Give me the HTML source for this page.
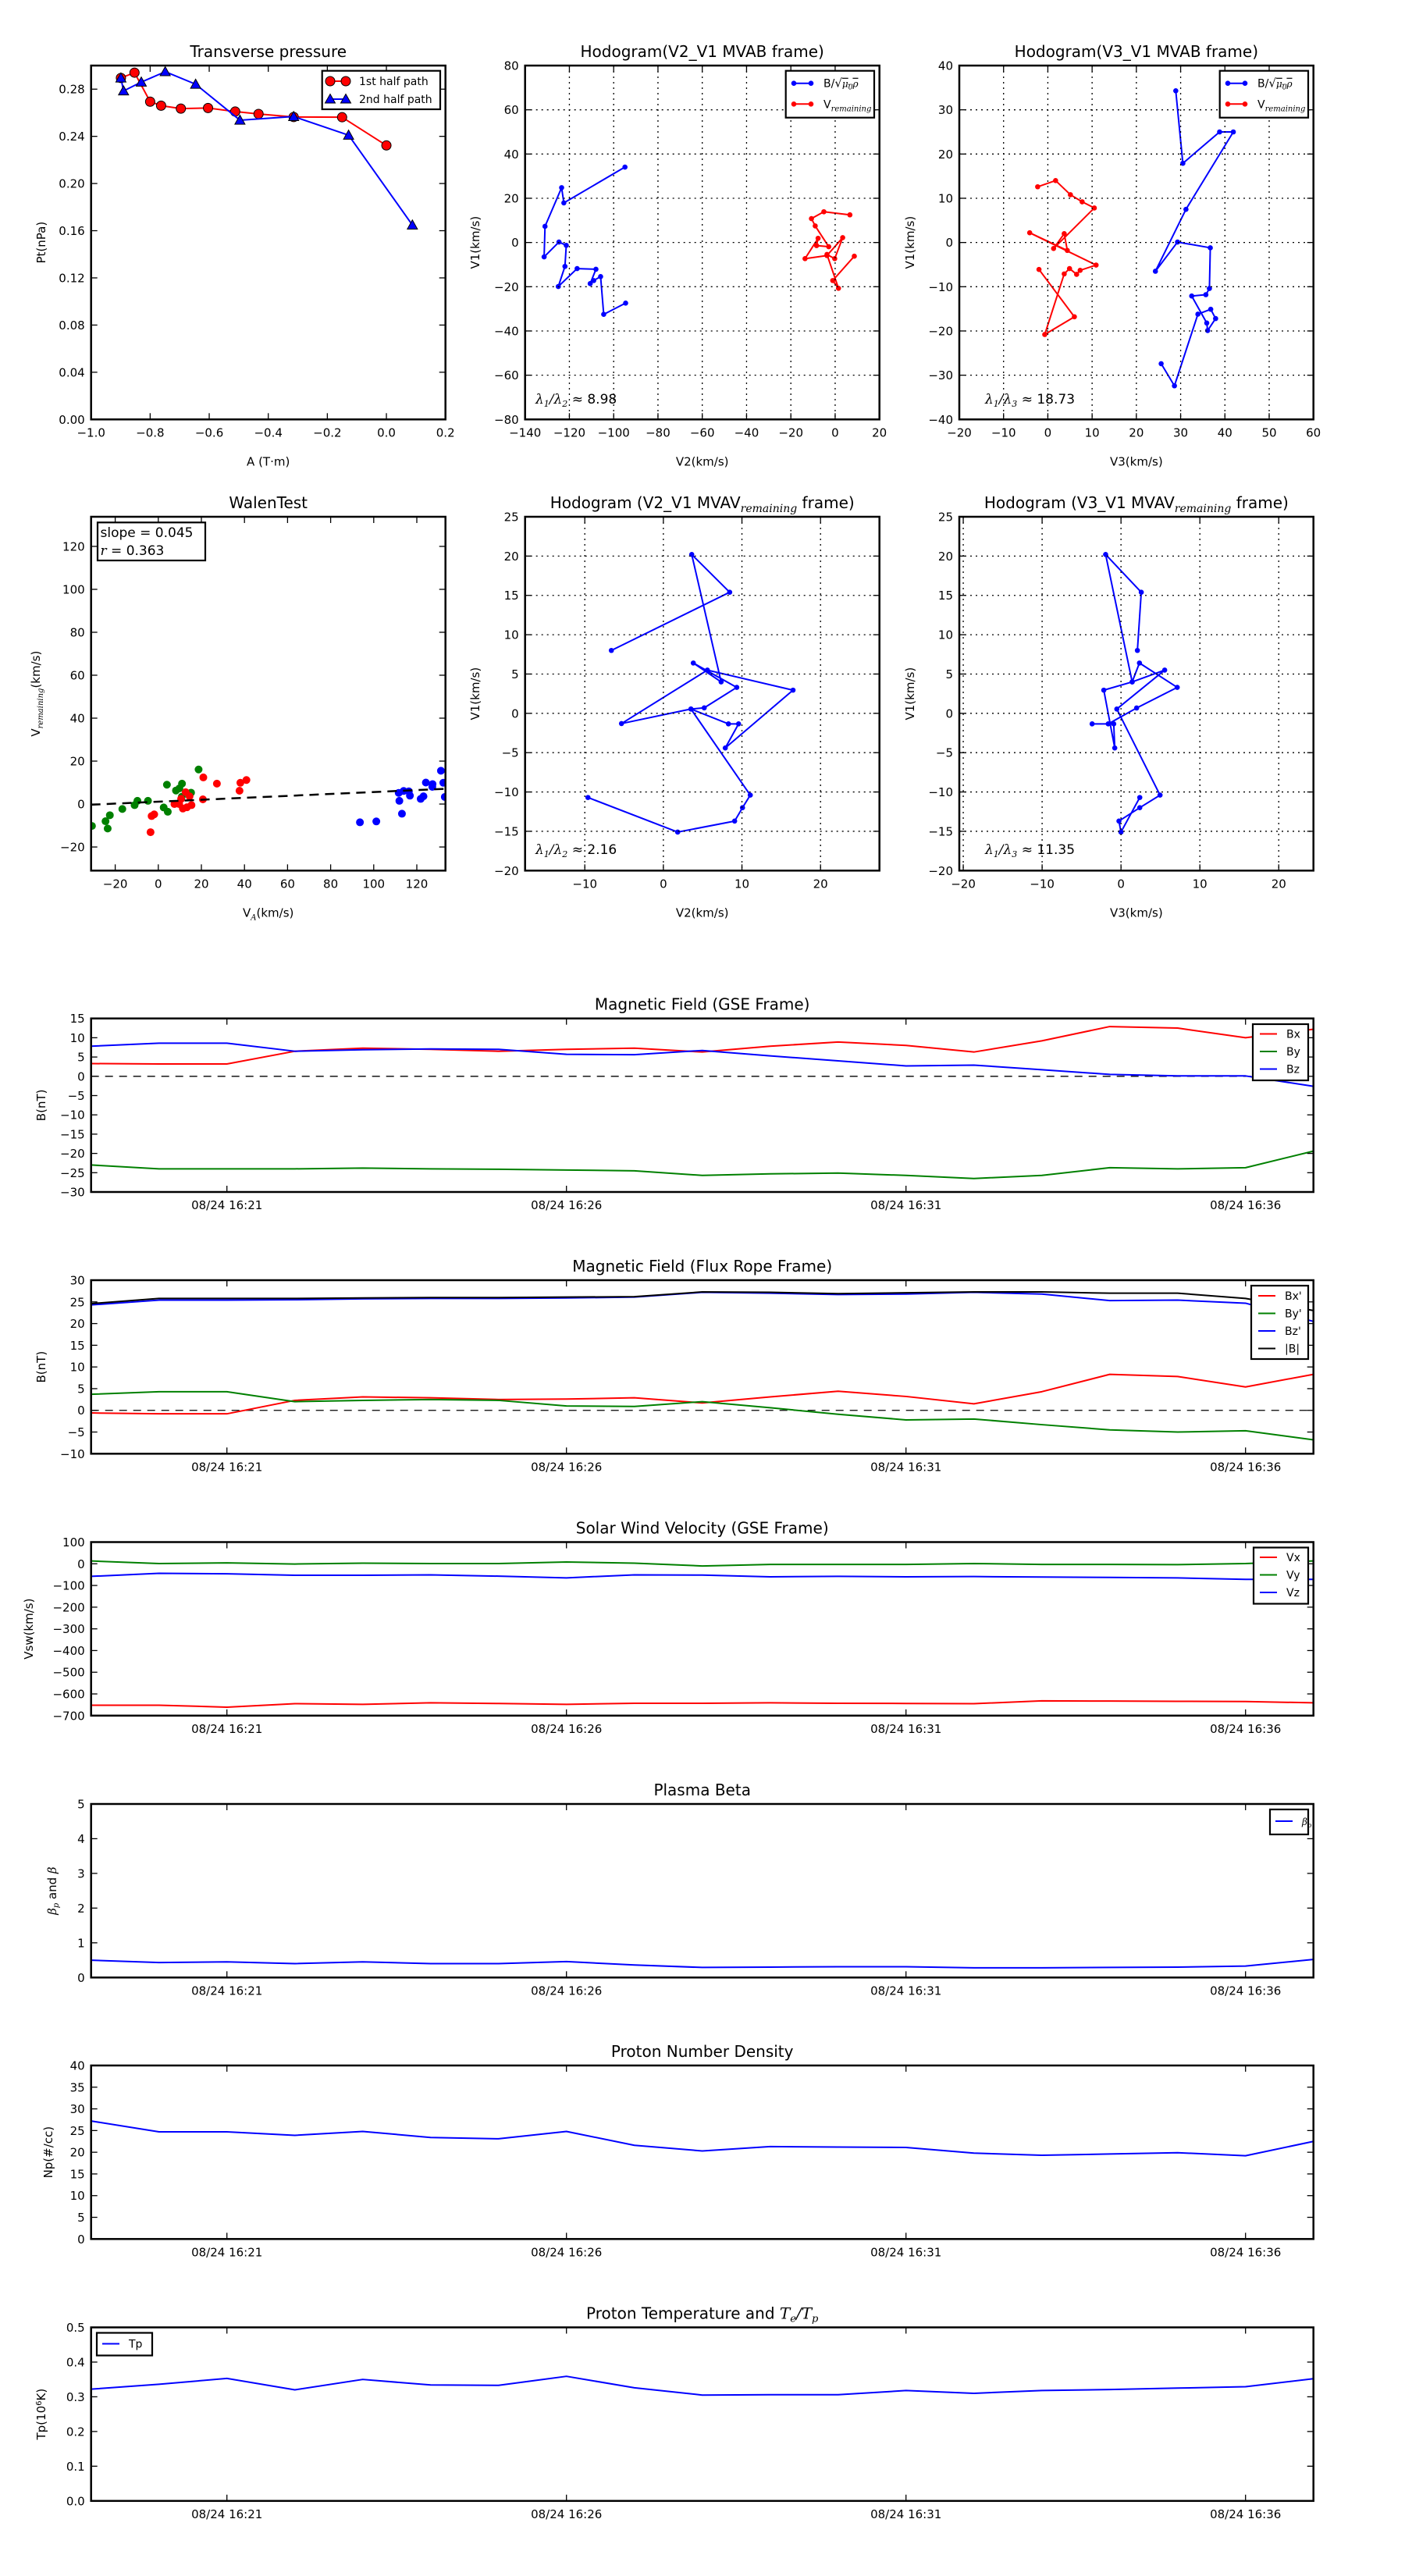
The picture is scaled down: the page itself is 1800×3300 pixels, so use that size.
<!DOCTYPE html>
<html><head><meta charset="utf-8"><title>Flux rope analysis</title>
<style>
html,body{margin:0;padding:0;background:#fff;}
svg{display:block;font-family:"DejaVu Sans","Liberation Sans",sans-serif;}
</style></head>
<body>
<svg id="fig" xmlns="http://www.w3.org/2000/svg" width="1800" height="3300" viewBox="0 0 1800 3300">
<rect x="0" y="0" width="1800" height="3300" fill="#fff"/>
<defs id="defs"></defs>
</svg>
<script>
// ---------- data: transverse pressure ----------
const pt1A = [-0.899,-0.853,-0.8,-0.763,-0.696,-0.604,-0.512,-0.433,-0.314,-0.150,0.0];
const pt1P = [0.2895,0.294,0.2694,0.266,0.2635,0.264,0.261,0.259,0.2564,0.2562,0.2323];
const pt2A = [-0.899,-0.890,-0.830,-0.749,-0.646,-0.496,-0.314,-0.128,0.088];
const pt2P = [0.2895,0.2785,0.286,0.2948,0.2842,0.2537,0.2568,0.241,0.1648];
const ptXTicks = [-1.0,-0.8,-0.6,-0.4,-0.2,0.0,0.2];
const ptYTicks = [0,0.04,0.08,0.12,0.16,0.20,0.24,0.28];
// ---------- hodogram V2_V1 MVAB ----------
const h1BV2 = [-94.9,-122.5,-123.5,-131,-131.4,-124.7,-121.4,-122,-125,-116.5,-108,-110.6,-109,-105.9,-104.5,-94.6];
const h1BV1 = [34.1,17.9,24.8,7.3,-6.5,0.2,-1.3,-10.8,-19.9,-11.8,-12.1,-18.6,-17.2,-15.4,-32.5,-27.4];
const h1VV2 = [6.65,-5.1,-10.7,-9.0,-2.9,-8.4,-7.7,-13.6,-3.7,3.4,-0.2,-3.7,1.5,-1.1,8.65];
const h1VV1 = [12.5,13.9,10.8,7.5,-1.9,-1.4,1.9,-7.3,-5.9,2.2,-7.3,-5.4,-20.7,-17.2,-6.2];
const h1XTicks = [-140,-120,-100,-80,-60,-40,-20,0,20];
const h1YTicks = [-80,-60,-40,-20,0,20,40,60,80];
// ---------- hodogram V3_V1 MVAB ----------
const h2BV3 = [28.9,30.5,38.8,41.9,31.2,24.3,29.3,36.7,36.5,35.7,32.5,35.9,36.1,37.9,36.8,33.9,28.6,25.6];
const h2BV1 = [34.3,17.9,25.0,25.0,7.5,-6.5,0.1,-1.2,-10.4,-11.8,-12.1,-18.2,-19.9,-17.2,-15.1,-16.2,-32.4,-27.4];
const h2VV3 = [-2.3,1.75,5.1,7.75,10.5,1.3,3.7,4.4,-4.1,10.9,7.3,6.5,4.9,3.7,-0.7,6.0,-2.0];
const h2VV1 = [12.6,14.0,10.8,9.2,7.8,-1.35,2.0,-1.8,2.2,-5.1,-6.3,-7.2,-5.9,-7.1,-20.8,-16.8,-6.1];
const h2XTicks = [-20,-10,0,10,20,30,40,50,60];
const h2YTicks = [-40,-30,-20,-10,0,10,20,30,40];
// ---------- Walen test ----------
const wGreenX = [-30.8,-24.5,-22.5,-23.5,-16.7,-11,-9.7,-4.8,4,2.5,4.4,8.2,9.8,11,10.9,15.2,18.7];
const wGreenY = [-10.2,-8,-5.2,-11.4,-2.3,-0.5,1.5,1.5,9,-1.6,-3.6,6.3,7.3,9.5,3.4,5.3,16.1];
const wRedX = [-3.6,-3.1,-1.9,7.5,9.7,11.4,13.3,15.4,12.7,14.5,10.6,20.9,20.7,27.2,37.7,38.1,40.9];
const wRedY = [-13.1,-5.6,-4.8,0,0,-2.1,-1.5,-0.5,5.5,3.6,2.4,12.4,2.2,9.5,6.2,9.9,11.2];
const wBlueX = [93.6,101.2,113.1,111.9,111.6,113.9,116.3,116.8,121.8,123.1,124.2,127.3,127.2,131.2,132.3,133];
const wBlueY = [-8.5,-8.1,-4.5,1.5,5.2,6.1,5.9,3.9,2.4,3.6,10,9.3,8,15.5,9.9,3.3];
const wSlope = 0.045;
const wIntercept = 1.1;
const wXTicks = [-20,0,20,40,60,80,100,120];
const wYTicks = [-20,0,20,40,60,80,100,120];
// ---------- hodogram V2_V1 MVAV ----------
const h3V2 = [-6.62,8.44,3.61,7.35,3.81,9.34,5.2,3.51,-5.33,5.6,16.5,7.88,9.57,8.28,3.51,11.06,10.07,9.07,1.82,-9.6];
const h3V1 = [8.0,15.4,20.2,4.0,6.4,3.3,0.7,0.55,-1.3,5.5,2.95,-4.4,-1.34,-1.34,0.55,-10.4,-12.0,-13.7,-15.1,-10.7];
const h3XTicks = [-10,0,10,20];
const h3YTicks = [-20,-15,-10,-5,0,5,10,15,20,25];
// ---------- hodogram V3_V1 MVAV ----------
const h4V3 = [2.08,2.57,-1.95,1.42,2.34,7.13,1.98,-1.62,-3.66,-0.92,-0.79,-2.18,1.42,5.54,-0.53,4.95,2.38,-0.26,0,2.38];
const h4V1 = [8.0,15.4,20.2,4.0,6.4,3.3,0.68,-1.34,-1.34,-1.34,-4.4,2.95,4.0,5.5,0.55,-10.4,-12.0,-13.7,-15.1,-10.7];
const h4XTicks = [-20,-10,0,10,20];
const h4YTicks = [-20,-15,-10,-5,0,5,10,15,20,25];
// ---------- time series (minutes after 16:19) ----------
const minutes = [0,1,2,3,4,5,6,7,8,9,10,11,12,13,14,15,16,17,18];
const timeTickMin = [2,7,12,17];
const timeTickLabels = ["08/24 16:21","08/24 16:26","08/24 16:31","08/24 16:36"];
const gseBx = [3.3,3.2,3.2,6.5,7.3,7.0,6.5,7.0,7.3,6.3,7.8,8.9,8.0,6.3,9.2,12.9,12.5,10.0,12.2];
const gseBy = [-23,-24,-24,-24,-23.8,-24,-24.1,-24.3,-24.5,-25.7,-25.3,-25.1,-25.7,-26.5,-25.7,-23.7,-24,-23.7,-19.4];
const gseBz = [7.8,8.6,8.6,6.5,6.9,7.1,7.0,5.7,5.6,6.7,5.3,4.0,2.7,2.9,1.7,0.5,0.1,0.1,-2.6];
const gseYTicks = [-30,-25,-20,-15,-10,-5,0,5,10,15];
const frBx = [-0.6,-0.8,-0.8,2.3,3.1,2.9,2.5,2.6,2.9,1.7,3.1,4.4,3.2,1.5,4.3,8.3,7.8,5.4,8.3];
const frBy = [3.7,4.3,4.3,2.0,2.3,2.5,2.3,1.0,0.9,2.0,0.6,-0.9,-2.2,-2.0,-3.3,-4.5,-5.0,-4.7,-6.8];
const frBz = [24.3,25.4,25.4,25.5,25.7,25.8,25.8,25.9,26.1,27.2,27.0,26.7,26.8,27.2,26.8,25.3,25.4,24.7,20.5];
const frBt = [24.6,25.8,25.8,25.8,25.9,26.0,26.0,26.1,26.2,27.3,27.2,26.9,27.1,27.3,27.3,27.0,27.0,25.8,23.0];
const frYTicks = [-10,-5,0,5,10,15,20,25,30];
const swVx = [-652,-652,-661,-645,-648,-641,-644,-648,-643,-643,-641,-643,-644,-645,-632,-633,-634,-635,-641];
const swVy = [13,1,4,-1,3,1,1,8,3,-10,-3,-3,-3,1,-3,-3,-4,1,13];
const swVz = [-58,-44,-46,-53,-53,-51,-57,-65,-51,-52,-60,-58,-60,-59,-61,-63,-65,-72,-72];
const swYTicks = [-700,-600,-500,-400,-300,-200,-100,0,100];
const betaP = [0.5,0.43,0.45,0.4,0.45,0.4,0.4,0.46,0.36,0.29,0.3,0.31,0.31,0.28,0.28,0.29,0.3,0.33,0.52];
const betaYTicks = [0,1,2,3,4,5];
const densNp = [27.2,24.7,24.7,23.9,24.8,23.4,23.1,24.8,21.6,20.3,21.3,21.2,21.1,19.8,19.3,19.6,19.9,19.2,22.5];
const densYTicks = [0,5,10,15,20,25,30,35,40];
const tempTp = [0.322,0.336,0.353,0.32,0.35,0.334,0.333,0.359,0.326,0.305,0.306,0.306,0.318,0.31,0.318,0.321,0.325,0.329,0.352];
const tempYTicks = [0,0.1,0.2,0.3,0.4,0.5];

// ---------- helpers ----------
const NS = 'http://www.w3.org/2000/svg';
const svg = document.getElementById('fig');
const defs = document.getElementById('defs');
const RED = '#ff0000', GREEN = '#008000', BLUE = '#0000ff';
function mk(tag, attrs, parent) {
  const e = document.createElementNS(NS, tag);
  for (const k in attrs) e.setAttribute(k, attrs[k]);
  (parent || svg).appendChild(e);
  return e;
}
function fmt(v, dec) {
  let s = v.toFixed(dec);
  if (parseFloat(s) === 0) s = (0).toFixed(dec);
  return s.replace('-', '\u2212');
}
let clipCount = 0;
function makeAxes(name, X0, Y0, X1, Y1, xmin, xmax, ymin, ymax) {
  const g = mk('g', {});
  
  
  const id = 'clip' + (clipCount++);
  const cp = mk('clipPath', {id: id}, defs);
  mk('rect', {x: X0, y: Y0, width: X1 - X0, height: Y1 - Y0}, cp);
  const plot = mk('g', {'clip-path': 'url(#' + id + ')'}, g);
  
  
  return {g, plot, X0, Y0, X1, Y1,
    sx: v => X0 + (v - xmin) / (xmax - xmin) * (X1 - X0),
    sy: v => Y1 - (v - ymin) / (ymax - ymin) * (Y1 - Y0)};
}
function frame(ax, xticks, xlabels, yticks, ylabels, grid) {
  const g = ax.g;
  if (grid) {
    xticks.forEach(v => {
      const x = ax.sx(v);
      if (x <= ax.X0 + 1 || x >= ax.X1 - 1) return;
      const l = mk('line', {x1: x, x2: x, y1: ax.Y0, y2: ax.Y1, stroke: '#000', 'stroke-width': 1.3, 'stroke-dasharray': '2,5'}, g);
      
      
    });
    yticks.forEach(v => {
      const y = ax.sy(v);
      if (y <= ax.Y0 + 1 || y >= ax.Y1 - 1) return;
      const l = mk('line', {x1: ax.X0, x2: ax.X1, y1: y, y2: y, stroke: '#000', 'stroke-width': 1.3, 'stroke-dasharray': '2,5'}, g);
      
      
    });
  }
  xticks.forEach((v, i) => {
    const x = ax.sx(v);
    mk('line', {x1: x, x2: x, y1: ax.Y1, y2: ax.Y1 - 8, stroke: '#000', 'stroke-width': 1.3}, g);
    mk('line', {x1: x, x2: x, y1: ax.Y0, y2: ax.Y0 + 8, stroke: '#000', 'stroke-width': 1.3}, g);
    const t = mk('text', {x: x, y: ax.Y1 + 22, 'text-anchor': 'middle', 'font-size': 15}, g);
    t.textContent = xlabels[i];
    
    
  });
  yticks.forEach((v, i) => {
    const y = ax.sy(v);
    mk('line', {x1: ax.X0, x2: ax.X0 + 8, y1: y, y2: y, stroke: '#000', 'stroke-width': 1.3}, g);
    mk('line', {x1: ax.X1, x2: ax.X1 - 8, y1: y, y2: y, stroke: '#000', 'stroke-width': 1.3}, g);
    const t = mk('text', {x: ax.X0 - 8, y: y + 5.5, 'text-anchor': 'end', 'font-size': 15}, g);
    t.textContent = ylabels[i];
    
    
  });
  const r = mk('rect', {x: ax.X0, y: ax.Y0, width: ax.X1 - ax.X0, height: ax.Y1 - ax.Y0, fill: 'none', stroke: '#000', 'stroke-width': 2.5}, g);
  
  
}
function title(ax, txt, name) {
  const t = mk('text', {x: (ax.X0 + ax.X1) / 2, y: ax.Y0 - 11, 'text-anchor': 'middle', 'font-size': 20}, ax.g);
  t.innerHTML = txt;
  
  
}
function xlabel(ax, txt, dy) {
  const t = mk('text', {x: (ax.X0 + ax.X1) / 2, y: ax.Y1 + dy, 'text-anchor': 'middle', 'font-size': 15}, ax.g);
  t.innerHTML = txt;
  
  
}
function ylabel(ax, txt, x) {
  const cy = (ax.Y0 + ax.Y1) / 2;
  const t = mk('text', {x: x, y: cy, 'text-anchor': 'middle', 'font-size': 15, transform: 'rotate(-90 ' + x + ' ' + cy + ')'}, ax.g);
  t.innerHTML = txt;
  
  
}
function line(ax, xs, ys, color, w, name) {
  const pts = xs.map((v, i) => ax.sx(v).toFixed(2) + ',' + ax.sy(ys[i]).toFixed(2)).join(' ');
  const p = mk('polyline', {points: pts, fill: 'none', stroke: color, 'stroke-width': w, 'stroke-linejoin': 'round'}, ax.plot);
  
  
}
function dots(ax, xs, ys, color, r, name, edge) {
  xs.forEach((v, i) => {
    const c = mk('circle', {cx: ax.sx(v), cy: ax.sy(ys[i]), r: r, fill: color}, ax.plot);
    if (edge) { c.setAttribute('stroke', '#000'); c.setAttribute('stroke-width', 1); }
    
    
  });
}
function tris(ax, xs, ys, color, s, name) {
  xs.forEach((v, i) => {
    const x = ax.sx(v), y = ax.sy(ys[i]);
    const p = mk('polygon', {points: `${x},${y - s} ${x - s},${y + s * 0.8} ${x + s},${y + s * 0.8}`, fill: color, stroke: '#000', 'stroke-width': 1}, ax.plot);
    
    
  });
}
function legendBox(ax, x, y, w, h, name) {
  const r = mk('rect', {x: x, y: y, width: w, height: h, fill: '#fff', stroke: '#000', 'stroke-width': 2.2}, ax.g);
  
  
}
function legendLine(ax, x, y, color, label, name, size, marker) {
  const g = mk('g', {}, ax.g);
  
  
  mk('line', {x1: x, x2: x + 22, y1: y, y2: y, stroke: color, 'stroke-width': 2}, g);
  if (marker) {
    mk('circle', {cx: x, cy: y, r: 3.3, fill: color}, g);
    mk('circle', {cx: x + 22, cy: y, r: 3.3, fill: color}, g);
  }
  const t = mk('text', {x: x + (marker ? 38 : 34), y: y + 5, 'font-size': size || 14}, g);
  t.innerHTML = label;
}
function annot(ax, x, y, html, name) {
  const t = mk('text', {x: x, y: y, 'font-size': 17}, ax.g);
  t.innerHTML = html;
  
  
}
const sqrtLbl = 'B/<tspan font-size="15">√</tspan><tspan font-style="italic" font-family="DejaVu Serif, serif" font-size="12" text-decoration="overline">μ<tspan font-size="9" dy="3">0</tspan><tspan dy="-3">ρ</tspan></tspan>';
const vremLbl = 'V<tspan font-style="italic" font-family="DejaVu Serif, serif" font-size="10" dy="4">remaining</tspan>';

// ---------- 1: transverse pressure ----------
{
  const ax = makeAxes('transverse-pressure-chart', 116.7, 84, 570.7, 537.3, -1.0, 0.2, 0, 0.30);
  line(ax, pt1A, pt1P, RED, 2, 'first-half-path-line');
  dots(ax, pt1A, pt1P, RED, 6, 'first-half-path-point', true);
  line(ax, pt2A, pt2P, BLUE, 2, 'second-half-path-line');
  tris(ax, pt2A, pt2P, BLUE, 6.5, 'second-half-path-point');
  frame(ax, ptXTicks, ptXTicks.map(v => fmt(v, 1)), ptYTicks, ptYTicks.map(v => fmt(v, 2)), false);
  title(ax, 'Transverse pressure', 'transverse-pressure-title');
  xlabel(ax, 'A (T·m)', 59);
  ylabel(ax, 'Pt(nPa)', 58);
  legendBox(ax, 412.7, 90.7, 151.3, 49.3, 'legend');
  const l1 = mk('g', {}, ax.g);
  
  
  mk('line', {x1: 423, x2: 443, y1: 104, y2: 104, stroke: RED, 'stroke-width': 2}, l1);
  mk('circle', {cx: 423, cy: 104, r: 6, fill: RED, stroke: '#000'}, l1);
  mk('circle', {cx: 443, cy: 104, r: 6, fill: RED, stroke: '#000'}, l1);
  mk('text', {x: 460, y: 109, 'font-size': 14}, l1).textContent = '1st half path';
  const l2 = mk('g', {}, ax.g);
  
  
  mk('line', {x1: 423, x2: 443, y1: 127, y2: 127, stroke: BLUE, 'stroke-width': 2}, l2);
  mk('polygon', {points: '423,120.5 416.5,132 429.5,132', fill: BLUE, stroke: '#000'}, l2);
  mk('polygon', {points: '443,120.5 436.5,132 449.5,132', fill: BLUE, stroke: '#000'}, l2);
  mk('text', {x: 460, y: 132, 'font-size': 14}, l2).textContent = '2nd half path';
}
// ---------- 2: hodogram V2_V1 MVAB ----------
{
  const ax = makeAxes('hodogram-v2-v1-mvab-chart', 672.7, 84, 1126.7, 537.3, -140, 20, -80, 80);
  line(ax, h1BV2, h1BV1, BLUE, 2, 'b-alfven-line');
  dots(ax, h1BV2, h1BV1, BLUE, 3.3, 'b-alfven-point');
  line(ax, h1VV2, h1VV1, RED, 2, 'v-remaining-line');
  dots(ax, h1VV2, h1VV1, RED, 3.3, 'v-remaining-point');
  frame(ax, h1XTicks, h1XTicks.map(v => fmt(v, 0)), h1YTicks, h1YTicks.map(v => fmt(v, 0)), true);
  title(ax, 'Hodogram(V2_V1 MVAB frame)', 'hodogram-v2-mvab-title');
  xlabel(ax, 'V2(km/s)', 59);
  ylabel(ax, 'V1(km/s)', 614);
  legendBox(ax, 1006.7, 90.7, 113.3, 60, 'legend');
  legendLine(ax, 1017, 106.7, BLUE, sqrtLbl, 'legend-entry-b', 14, true);
  legendLine(ax, 1017, 133.3, RED, vremLbl, 'legend-entry-v', 14, true);
  annot(ax, 686, 517, '<tspan font-style="italic" font-family="DejaVu Serif, serif">λ<tspan font-size="11" dy="4">1</tspan><tspan dy="-4">/λ</tspan><tspan font-size="11" dy="4">2</tspan></tspan><tspan dy="-4"> ≈ 8.98</tspan>', 'eigenvalue-ratio-label');
}
// ---------- 3: hodogram V3_V1 MVAB ----------
{
  const ax = makeAxes('hodogram-v3-v1-mvab-chart', 1229, 84, 1682.7, 537.3, -20, 60, -40, 40);
  line(ax, h2BV3, h2BV1, BLUE, 2, 'b-alfven-line');
  dots(ax, h2BV3, h2BV1, BLUE, 3.3, 'b-alfven-point');
  line(ax, h2VV3, h2VV1, RED, 2, 'v-remaining-line');
  dots(ax, h2VV3, h2VV1, RED, 3.3, 'v-remaining-point');
  frame(ax, h2XTicks, h2XTicks.map(v => fmt(v, 0)), h2YTicks, h2YTicks.map(v => fmt(v, 0)), true);
  title(ax, 'Hodogram(V3_V1 MVAB frame)', 'hodogram-v3-mvab-title');
  xlabel(ax, 'V3(km/s)', 59);
  ylabel(ax, 'V1(km/s)', 1171);
  legendBox(ax, 1562.7, 90.7, 113.3, 60, 'legend');
  legendLine(ax, 1573, 106.7, BLUE, sqrtLbl, 'legend-entry-b', 14, true);
  legendLine(ax, 1573, 133.3, RED, vremLbl, 'legend-entry-v', 14, true);
  annot(ax, 1262, 517, '<tspan font-style="italic" font-family="DejaVu Serif, serif">λ<tspan font-size="11" dy="4">1</tspan><tspan dy="-4">/λ</tspan><tspan font-size="11" dy="4">3</tspan></tspan><tspan dy="-4"> ≈ 18.73</tspan>', 'eigenvalue-ratio-label');
}
// ---------- 4: Walen test ----------
{
  const ax = makeAxes('walen-test-chart', 116.7, 662, 570.7, 1115.3, -31.2, 133.3, -31, 133.8);
  dots(ax, wGreenX, wGreenY, GREEN, 5, 'walen-point-green');
  dots(ax, wRedX, wRedY, RED, 5, 'walen-point-red');
  dots(ax, wBlueX, wBlueY, BLUE, 5, 'walen-point-blue');
  const fx = [-31.2, 133.3];
  const fy = fx.map(v => wSlope * v + wIntercept);
  const fl = mk('line', {x1: ax.sx(fx[0]), y1: ax.sy(fy[0]), x2: ax.sx(fx[1]), y2: ax.sy(fy[1]), stroke: '#000', 'stroke-width': 2.5, 'stroke-dasharray': '12,8'}, ax.plot);
  
  
  frame(ax, wXTicks, wXTicks.map(v => fmt(v, 0)), wYTicks, wYTicks.map(v => fmt(v, 0)), false);
  title(ax, 'WalenTest', 'walen-test-title');
  xlabel(ax, 'V<tspan font-style="italic" font-family="DejaVu Serif, serif" font-size="10" dy="4">A</tspan><tspan dy="-4">(km/s)</tspan>', 59);
  ylabel(ax, 'V<tspan font-style="italic" font-family="DejaVu Serif, serif" font-size="10" dy="4">remaining</tspan><tspan dy="-4">(km/s)</tspan>', 51);
  legendBox(ax, 125, 669.3, 138, 48.7, 'fit-stats-box');
  annot(ax, 128.5, 688, 'slope = 0.045', 'slope-label');
  annot(ax, 128.5, 711, '<tspan font-style="italic" font-family="DejaVu Serif, serif">r</tspan> = 0.363', 'correlation-label');
}
// ---------- 5: hodogram V2_V1 MVAV ----------
{
  const ax = makeAxes('hodogram-v2-v1-mvav-chart', 672.7, 662, 1126.7, 1115.3, -17.6, 27.5, -20, 25);
  line(ax, h3V2, h3V1, BLUE, 2, 'b-alfven-line');
  dots(ax, h3V2, h3V1, BLUE, 3.3, 'b-alfven-point');
  frame(ax, h3XTicks, h3XTicks.map(v => fmt(v, 0)), h3YTicks, h3YTicks.map(v => fmt(v, 0)), true);
  title(ax, 'Hodogram (V2_V1 MVAV<tspan font-style="italic" font-family="DejaVu Serif, serif" font-size="14" dy="5">remaining</tspan><tspan dy="-5"> frame)</tspan>', 'hodogram-v2-mvav-title');
  xlabel(ax, 'V2(km/s)', 59);
  ylabel(ax, 'V1(km/s)', 614);
  annot(ax, 686, 1094, '<tspan font-style="italic" font-family="DejaVu Serif, serif">λ<tspan font-size="11" dy="4">1</tspan><tspan dy="-4">/λ</tspan><tspan font-size="11" dy="4">2</tspan></tspan><tspan dy="-4"> ≈ 2.16</tspan>', 'eigenvalue-ratio-label');
}
// ---------- 6: hodogram V3_V1 MVAV ----------
{
  const ax = makeAxes('hodogram-v3-v1-mvav-chart', 1229, 662, 1682.7, 1115.3, -20.5, 24.4, -20, 25);
  line(ax, h4V3, h4V1, BLUE, 2, 'b-alfven-line');
  dots(ax, h4V3, h4V1, BLUE, 3.3, 'b-alfven-point');
  frame(ax, h4XTicks, h4XTicks.map(v => fmt(v, 0)), h4YTicks, h4YTicks.map(v => fmt(v, 0)), true);
  title(ax, 'Hodogram (V3_V1 MVAV<tspan font-style="italic" font-family="DejaVu Serif, serif" font-size="14" dy="5">remaining</tspan><tspan dy="-5"> frame)</tspan>', 'hodogram-v3-mvav-title');
  xlabel(ax, 'V3(km/s)', 59);
  ylabel(ax, 'V1(km/s)', 1171);
  annot(ax, 1262, 1094, '<tspan font-style="italic" font-family="DejaVu Serif, serif">λ<tspan font-size="11" dy="4">1</tspan><tspan dy="-4">/λ</tspan><tspan font-size="11" dy="4">3</tspan></tspan><tspan dy="-4"> ≈ 11.35</tspan>', 'eigenvalue-ratio-label');
}
// ---------- time series panels ----------
function timePanel(name, top, ymin, ymax) {
  return makeAxes(name, 116.7, top, 1682.7, top + 222.3, 0, 18, ymin, ymax);
}
function finishTime(ax, yticks, ydec, ttl, tname, ylab, ylabX) {
  frame(ax, timeTickMin, timeTickLabels, yticks, yticks.map(v => fmt(v, ydec)), false);
  title(ax, ttl, tname);
  ylabel(ax, ylab, ylabX);
}
function zeroLine(ax) {
  const z = mk('line', {x1: ax.X0, x2: ax.X1, y1: ax.sy(0), y2: ax.sy(0), stroke: '#000', 'stroke-width': 1.3, 'stroke-dasharray': '10,8'}, ax.plot);
  
  
}
{
  const ax = timePanel('magnetic-field-gse-chart', 1304.7, -30, 15);
  zeroLine(ax);
  line(ax, minutes, gseBx, RED, 2, 'bx-line');
  line(ax, minutes, gseBy, GREEN, 2, 'by-line');
  line(ax, minutes, gseBz, BLUE, 2, 'bz-line');
  finishTime(ax, gseYTicks, 0, 'Magnetic Field (GSE Frame)', 'magnetic-field-gse-title', 'B(nT)', 58);
  legendBox(ax, 1605, 1312, 71, 72, 'legend');
  legendLine(ax, 1614, 1324.5, RED, 'Bx', 'legend-entry-bx');
  legendLine(ax, 1614, 1347, GREEN, 'By', 'legend-entry-by');
  legendLine(ax, 1614, 1369.5, BLUE, 'Bz', 'legend-entry-bz');
}
{
  const top = 1640;
  const ax = timePanel('magnetic-field-flux-rope-chart', top, -10, 30);
  zeroLine(ax);
  line(ax, minutes, frBx, RED, 2, 'bx-prime-line');
  line(ax, minutes, frBy, GREEN, 2, 'by-prime-line');
  line(ax, minutes, frBz, BLUE, 2, 'bz-prime-line');
  line(ax, minutes, frBt, '#000', 2, 'b-magnitude-line');
  finishTime(ax, frYTicks, 0, 'Magnetic Field (Flux Rope Frame)', 'magnetic-field-flux-rope-title', 'B(nT)', 58);
  legendBox(ax, 1603, top + 7, 73, 94, 'legend');
  legendLine(ax, 1612, top + 20, RED, "Bx'", 'legend-entry-bx-prime');
  legendLine(ax, 1612, top + 42.5, GREEN, "By'", 'legend-entry-by-prime');
  legendLine(ax, 1612, top + 65, BLUE, "Bz'", 'legend-entry-bz-prime');
  legendLine(ax, 1612, top + 87.5, '#000', '|B|', 'legend-entry-b-magnitude');
}
{
  const top = 1975.5;
  const ax = timePanel('solar-wind-velocity-chart', top, -700, 100);
  line(ax, minutes, swVx, RED, 2, 'vx-line');
  line(ax, minutes, swVy, GREEN, 2, 'vy-line');
  line(ax, minutes, swVz, BLUE, 2, 'vz-line');
  finishTime(ax, swYTicks, 0, 'Solar Wind Velocity (GSE Frame)', 'solar-wind-velocity-title', 'Vsw(km/s)', 42);
  legendBox(ax, 1606, top + 7, 70, 72, 'legend');
  legendLine(ax, 1614, top + 19.5, RED, 'Vx', 'legend-entry-vx');
  legendLine(ax, 1614, top + 42, GREEN, 'Vy', 'legend-entry-vy');
  legendLine(ax, 1614, top + 64.5, BLUE, 'Vz', 'legend-entry-vz');
}
{
  const top = 2311;
  const ax = timePanel('plasma-beta-chart', top, 0, 5);
  line(ax, minutes, betaP, BLUE, 2, 'beta-p-line');
  finishTime(ax, betaYTicks, 0, 'Plasma Beta', 'plasma-beta-title', '<tspan font-style="italic" font-family="DejaVu Serif, serif">β<tspan font-size="10" dy="3">p</tspan></tspan><tspan dy="-3"> and </tspan><tspan font-style="italic" font-family="DejaVu Serif, serif">β</tspan>', 72);
  legendBox(ax, 1627, top + 7, 49, 32, 'legend');
  legendLine(ax, 1634, top + 22, BLUE, '<tspan font-style="italic" font-family="DejaVu Serif, serif" font-size="12">β<tspan font-size="8" dy="3">p</tspan></tspan>', 'legend-entry-beta-p');
}
{
  const top = 2646;
  const ax = timePanel('proton-density-chart', top, 0, 40);
  line(ax, minutes, densNp, BLUE, 2, 'np-line');
  finishTime(ax, densYTicks, 0, 'Proton Number Density', 'proton-density-title', 'Np(#/cc)', 67);
}
{
  const top = 2981.5;
  const ax = timePanel('proton-temperature-chart', top, 0, 0.5);
  line(ax, minutes, tempTp, BLUE, 2, 'tp-line');
  finishTime(ax, tempYTicks, 1, 'Proton Temperature and <tspan font-style="italic" font-family="DejaVu Serif, serif">T<tspan font-size="13" dy="4">e</tspan><tspan dy="-4">/T</tspan><tspan font-size="13" dy="4">p</tspan></tspan>', 'proton-temperature-title', 'Tp(10<tspan font-size="10" dy="-5">6</tspan><tspan dy="5">K)</tspan>', 58);
  legendBox(ax, 124, top + 7, 71, 29, 'legend');
  legendLine(ax, 131, top + 21, BLUE, 'Tp', 'legend-entry-tp');
}
</script>
</body></html>
